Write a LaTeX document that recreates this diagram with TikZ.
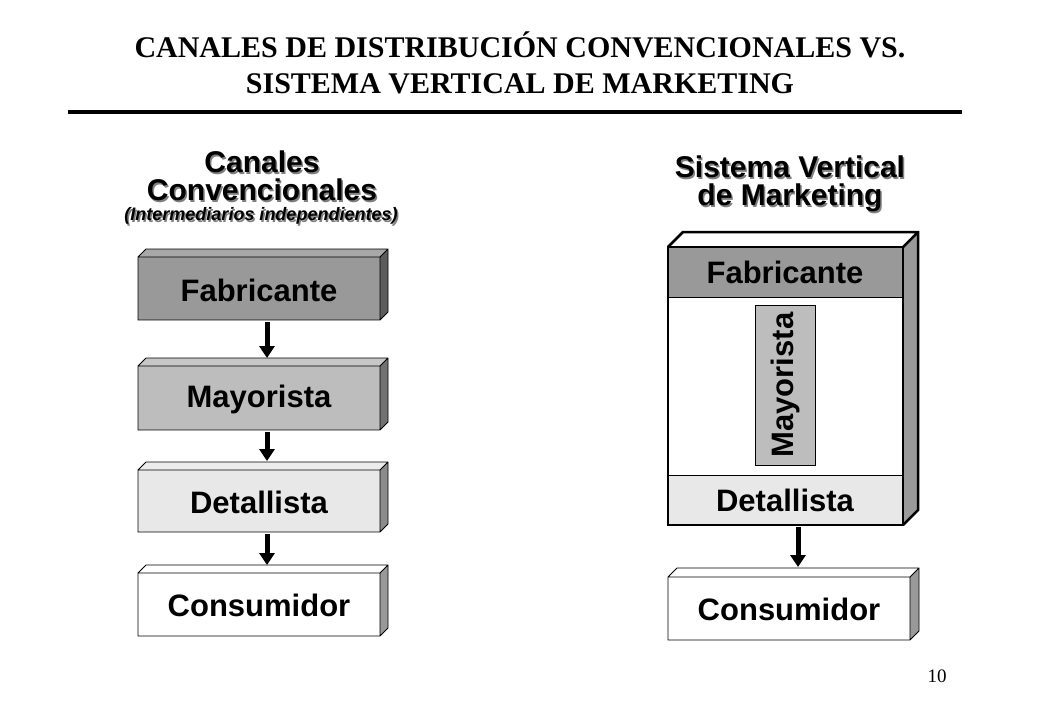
\documentclass[tikz,border=0pt]{standalone}
\usepackage{fontspec}
\setmainfont{Liberation Serif}
\newfontfamily\arial{Liberation Sans}
\usetikzlibrary{arrows.meta}
\definecolor{darkgray}{gray}{0.6}
\definecolor{midgray}{gray}{0.74}
\definecolor{lightgray}{gray}{0.91}

\tikzset{
  flow/.style={line width=5pt,-{Triangle[length=12pt,width=15pt]}},
  boxtext/.style={font=\arial\bfseries\fontsize{31}{31}\selectfont},
  headtext/.style={font=\arial\bfseries\fontsize{30}{28}\selectfont,align=center},
  subtext/.style={font=\arial\bfseries\itshape\fontsize{18}{18}\selectfont},
}
% front face from (x1,y1) to (x2,y2), depth d, fill colour
\newcommand{\slab}[6]{%
  \fill[#5!60!black] (#3,#2) -- (#3+#6,#2-#6) -- (#3+#6,#4-#6) -- (#3,#4) -- cycle;
  \fill[#5!85!white] (#1,#2) -- (#1+#6,#2-#6) -- (#3+#6,#2-#6) -- (#3,#2) -- cycle;
  \fill[#5] (#1,#2) rectangle (#3,#4);
  \draw[line width=0.8pt] (#1,#4) -- (#1,#2) -- (#1+#6,#2-#6) -- (#3+#6,#2-#6) -- (#3+#6,#4-#6) -- (#3,#4) -- cycle
     (#1,#2) -- (#3,#2) -- (#3,#4) (#3,#2) -- (#3+#6,#2-#6);}

\begin{document}
\begin{tikzpicture}[x=1pt,y=-1pt]
\useasboundingbox (0,0) rectangle (1040,720);

% title
\node[font=\bfseries\fontsize{30}{36}\selectfont,align=center] (title) at (520,63)
  {CANALES DE DISTRIBUCIÓN CONVENCIONALES VS.\\SISTEMA VERTICAL DE MARKETING};
\draw[line width=4pt] (68,112) -- (962,112);

% left side
\node[headtext,text=gray] at (263.5,177.5) {Canales\\Convencionales};
\node[headtext] (convhead) at (262,176) {Canales\\Convencionales};
\node[subtext,text=gray] at (262.5,217.5) {(Intermediarios independientes)};
\node[subtext] (convsub) at (261,216) {(Intermediarios independientes)};

\slab{138}{257}{380}{320}{darkgray}{8}
\slab{138}{366}{380}{430}{midgray}{8}
\slab{138}{470}{380}{532}{lightgray}{8}
\slab{138}{573}{380}{636}{white}{8}
\node[boxtext] (fab) at (259,290) {Fabricante};
\node[boxtext] (may) at (259,399) {Mayorista};
\node[boxtext] (det) at (259,502) {Detallista};
\node[boxtext] (con) at (259,605) {Consumidor};
\coordinate (fabB) at (267,322); \coordinate (mayT) at (267,358);
\coordinate (mayB) at (267,432); \coordinate (detT) at (267,461);
\coordinate (detB) at (267,534); \coordinate (conT) at (267,565);
\draw[flow] (fabB) -- (mayT);
\draw[flow] (mayB) -- (detT);
\draw[flow] (detB) -- (conT);

% right side
\node[headtext,text=gray] at (791.5,185.5) {Sistema Vertical\\de Marketing};
\node[headtext] (svmhead) at (790,184) {Sistema Vertical\\de Marketing};

\slab{668}{247}{903}{525}{white}{15}
\fill[darkgray] (668,247) rectangle (903,297);
\fill[lightgray] (668,475) rectangle (903,525);
\draw[line width=0.6pt] (668,297) -- (903,297) (668,475) -- (903,475);
\draw[line width=2.5pt] (668,247) rectangle (903,525);
\draw[line width=2.5pt] (668,247) -- (683,232) -- (918,232) -- (918,510) -- (903,525) (903,247) -- (918,232);
\node[boxtext] (vfab) at (785,272) {Fabricante};
\node[boxtext] (vdet) at (785,500) {Detallista};
\node[boxtext,draw,line width=0.6pt,fill=midgray,rotate=90,minimum width=160pt,minimum height=60pt,inner sep=0pt] (vmay) at (785,385) {Mayorista};

\slab{668}{577}{910}{640}{white}{9}
\node[boxtext] (vcon) at (789,609) {Consumidor};
\coordinate (vdetB) at (798,527); \coordinate (vconT) at (798,567);
\draw[flow] (vdetB) -- (vconT);

\node[font=\fontsize{19}{19}\selectfont] (page) at (937,676) {10};
\end{tikzpicture}
\end{document}
